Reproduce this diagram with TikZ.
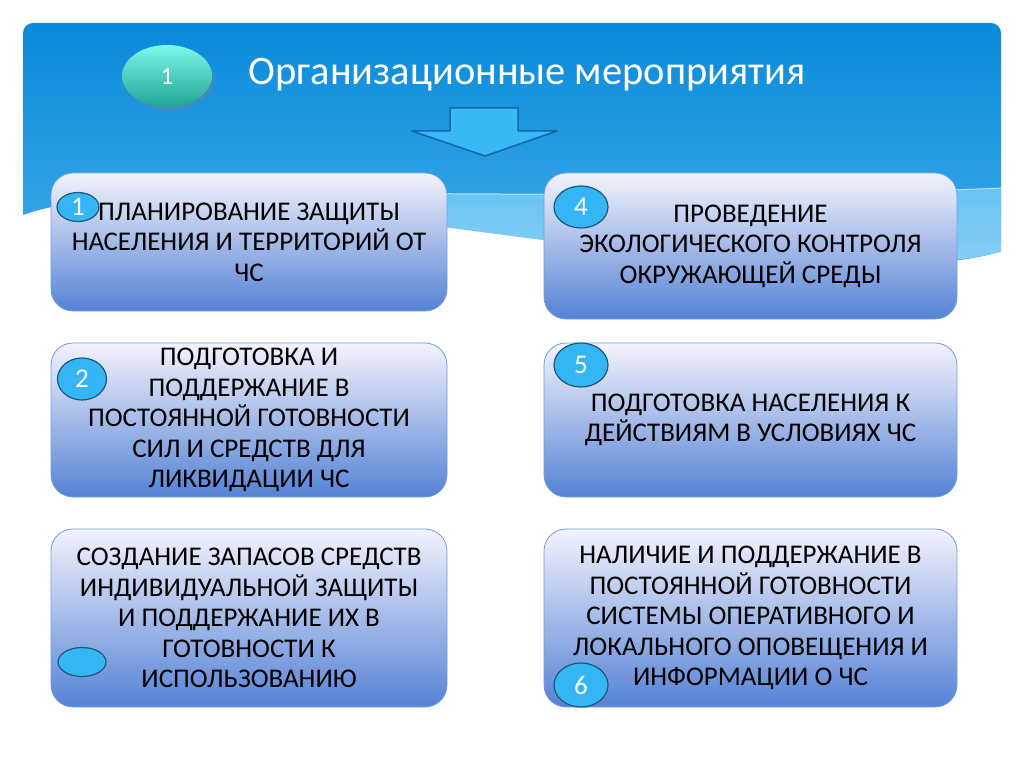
\documentclass[tikz,border=0pt]{standalone}
\usepackage{fontspec}
\setmainfont{Carlito}
\usetikzlibrary{shapes.geometric,shadows}
\definecolor{skytop}{HTML}{0A8ADA}
\definecolor{skybot}{HTML}{46B0EC}
\definecolor{wavetop}{HTML}{5EBEF1}
\definecolor{wavebot}{HTML}{9AD7F7}
\definecolor{boxtop}{HTML}{F3F3FC}
\definecolor{boxbot}{HTML}{5582D5}
\definecolor{boxline}{HTML}{6E9EE2}
\definecolor{numfill}{HTML}{34B5F5}
\definecolor{numline}{HTML}{1D5875}
\definecolor{minttop}{HTML}{7EF7E9}
\definecolor{mintbot}{HTML}{1DA595}
\definecolor{arrowfill}{HTML}{38B8F4}
\definecolor{arrowline}{HTML}{1468A8}
\begin{document}
\begin{tikzpicture}[x=1pt, y=-1pt,
box/.style={draw=boxline, line width=0.8pt, rounded corners=22pt, top color=boxtop, bottom color=boxbot, align=center, inner sep=0pt, font=\fontsize{27}{30.5}\selectfont},
num/.style={ellipse, draw=numline, line width=1.2pt, fill=numfill, text=white, inner sep=0pt, font=\fontsize{27}{27}\selectfont},
badge/.style={ellipse, top color=minttop, bottom color=mintbot, text=white, inner sep=0pt, drop shadow={opacity=0.4, shadow xshift=2pt, shadow yshift=-3pt}, font=\fontsize{25}{25}\selectfont}
]
\useasboundingbox (0,0) rectangle (1024,767);
\fill[white] (0,0) rectangle (1024,767);

% sky panel and wave
\shade[top color=skytop, bottom color=skybot, rounded corners=10pt]
  (23,215) -- (23,23) -- (1001,23) -- (1001,252) [sharp corners]
  .. controls (750,310) and (200,150) .. (23,215) -- cycle;
\shade[top color=wavetop, bottom color=wavebot]
  (60,207) .. controls (250,180) and (600,205) .. (1001,188) -- (1001,252)
  .. controls (750,310) and (250,165) .. (60,207) -- cycle;
\draw[white, opacity=0.6, line width=1pt] (60,207) .. controls (250,180) and (600,205) .. (1001,188);

% title
\node[badge, minimum width=90pt, minimum height=62pt] (badge) at (167,76) {1};
\node[text=white, font=\fontsize{40.5}{40.5}\selectfont] (title) at (527,75) {Организационные мероприятия};
\filldraw[fill=arrowfill, draw=arrowline, line width=1.5pt, line join=round]
  (450,108) -- (518,108) -- (518,131) -- (557,131) -- (485,156) -- (412,131) -- (450,131) -- cycle;

% boxes
\node[box, minimum width=396pt, minimum height=138pt] (plan) at (249,242)
  {ПЛАНИРОВАНИЕ ЗАЩИТЫ\\НАСЕЛЕНИЯ И ТЕРРИТОРИЙ ОТ\\ЧС};
\node[box, minimum width=396pt, minimum height=154pt] (forces) at (249,420)
  {ПОДГОТОВКА И\\ПОДДЕРЖАНИЕ В\\ПОСТОЯННОЙ ГОТОВНОСТИ\\СИЛ И СРЕДСТВ ДЛЯ\\ЛИКВИДАЦИИ ЧС};
\node[box, minimum width=396pt, minimum height=178pt] (stock) at (249,618)
  {СОЗДАНИЕ ЗАПАСОВ СРЕДСТВ\\ИНДИВИДУАЛЬНОЙ ЗАЩИТЫ\\И ПОДДЕРЖАНИЕ ИХ В\\ГОТОВНОСТИ К\\ИСПОЛЬЗОВАНИЮ};
\node[box, minimum width=413pt, minimum height=146pt] (ecology) at (750.5,246)
  {ПРОВЕДЕНИЕ\\ЭКОЛОГИЧЕСКОГО КОНТРОЛЯ\\ОКРУЖАЮЩЕЙ СРЕДЫ};
\node[box, minimum width=413pt, minimum height=154pt] (training) at (750.5,420)
  {ПОДГОТОВКА НАСЕЛЕНИЯ К\\ДЕЙСТВИЯМ В УСЛОВИЯХ ЧС};
\node[box, minimum width=413pt, minimum height=178pt] (alert) at (750.5,618)
  {НАЛИЧИЕ И ПОДДЕРЖАНИЕ В\\ПОСТОЯННОЙ ГОТОВНОСТИ\\СИСТЕМЫ ОПЕРАТИВНОГО И\\ЛОКАЛЬНОГО ОПОВЕЩЕНИЯ И\\ИНФОРМАЦИИ О ЧС};

% numbers
\node[num, minimum width=42pt, minimum height=29pt] (n1) at (78,207) {1};
\node[num, minimum width=49pt, minimum height=42pt] (n2) at (82,379) {2};
\node[num, minimum width=48pt, minimum height=29pt] (n3) at (82,662) {};
\node[num, minimum width=54pt, minimum height=42pt] (n4) at (581,207) {4};
\node[num, minimum width=54pt, minimum height=44pt] (n5) at (581,365) {5};
\node[num, minimum width=54pt, minimum height=44pt] (n6) at (581,685) {6};
\end{tikzpicture}
\end{document}
